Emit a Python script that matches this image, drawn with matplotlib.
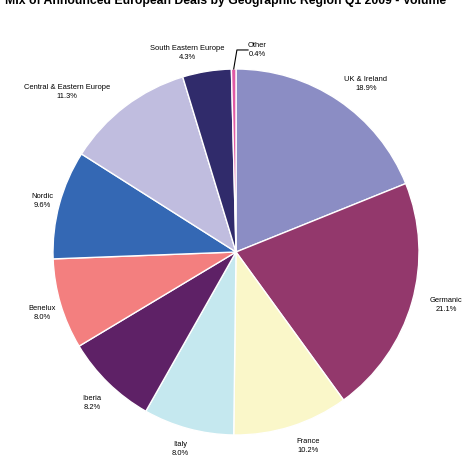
import numpy as np
import matplotlib
matplotlib.use("Agg")
import matplotlib.pyplot as plt

plt.rcParams['font.family'] = ['Liberation Sans', 'DejaVu Sans']

regions = ["UK & Ireland", "Germanic", "France", "Italy", "Iberia", "Benelux",
           "Nordic", "Central & Eastern Europe", "South Eastern Europe", "Other"]
shares = [18.9, 21.1, 10.2, 8.0, 8.2, 8.0, 9.6, 11.3, 4.3, 0.4]
colors = ["#8b8dc4", "#93386c", "#faf7c9", "#c5e8ef", "#5e2166", "#f37f7f",
          "#3468b4", "#c0bddf", "#302b6b", "#e05aa5"]

title = "Mix of Announced European Deals by Geographic Region Q1 2009 - Volume"

W, H = 467, 459
fig = plt.figure(figsize=(W / 100, H / 100), dpi=100)

cx, cy, r = 236, 252, 183
ax = fig.add_axes([(cx - r) / W, 1 - (cy + r) / H, 2 * r / W, 2 * r / H])

wedges, _ = ax.pie(shares, colors=colors, startangle=90, counterclock=False,
                   wedgeprops=dict(edgecolor="white", linewidth=1.0))
ax.set_xlim(-1, 1)
ax.set_ylim(-1, 1)
ax.set_aspect('auto')
ax.axis('off')

# label anchor points in pie-radius units
label_xy = [(0.710, 0.918), (1.148, -0.290), (0.393, -1.060),
            (-0.306, -1.077), (-0.787, -0.825), (-1.060, -0.333),
            (-1.060, 0.279), (-0.923, 0.874), (-0.268, 1.087),
            (0.115, 1.104)]
for name, v, (lx, ly) in zip(regions, shares, label_xy):
    ax.text(lx, ly, f"{name}\n{v:.1f}%", ha="center", va="center",
            fontsize=5.4, clip_on=False, linespacing=1.5)

# leader line for the smallest slice
mid = 90 - (100 - shares[-1] / 2) * 3.6
a = np.deg2rad(mid)
ax.plot([np.cos(a), 0.005, 0.066], [np.sin(a), 1.104, 1.104],
        color="black", lw=0.8, clip_on=False)

fig.text(226 / W, 1 - 1 / H, title, ha="center", va="center",
         fontsize=8.8, fontweight="bold")

fig.savefig("out.png", dpi=100)
